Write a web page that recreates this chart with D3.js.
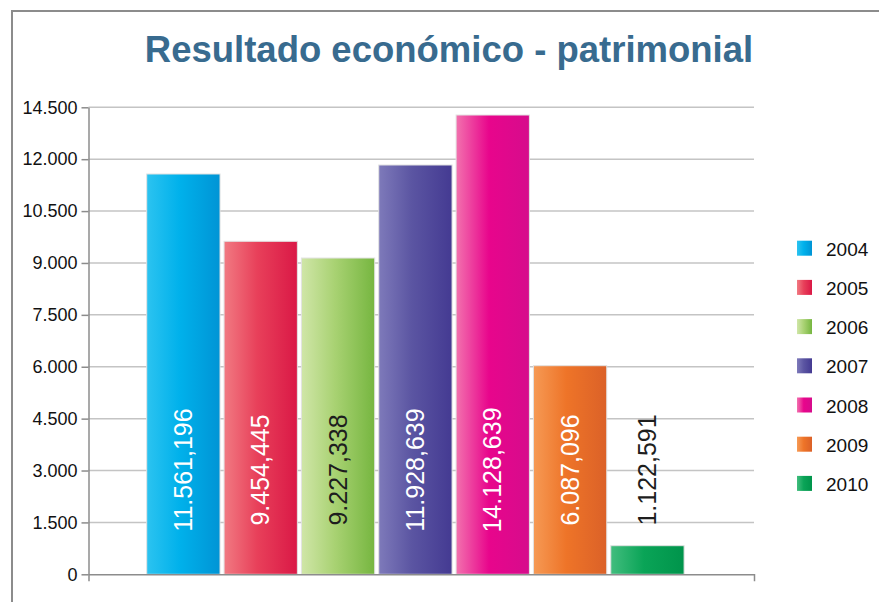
<!DOCTYPE html>
<html lang="es">
<head>
    <meta charset="UTF-8">
    <title>Resultado económico - patrimonial</title>
    <script src="https://d3js.org/d3.v7.min.js"></script>
    <style>
        body { margin: 0; background: #fff; }
        svg { display: block; font-family: "Liberation Sans", Arial, Helvetica, sans-serif; }
    </style>
</head>
<body>
    <div id="chart"></div>
    <script>
        // datos
        const years = ["2004", "2005", "2006", "2007", "2008", "2009", "2010"];
        const values = [11572, 9626, 9143, 11832, 13277, 6030, 827];
        const valueLabels = ["11.561,196", "9.454,445", "9.227,338", "11.928,639", "14.128,639", "6.087,096", "1.122,591"];
        const tickValues = [0, 1500, 3000, 4500, 6000, 7500, 9000, 10500, 12000, 13500];
        const tickLabels = ["0", "1.500", "3.000", "4.500", "6.000", "7.500", "9.000", "10.500", "12.000", "14.500"];
        const gradStops = [
            ["#2cc3f0", "#00b1eb", "#0094d5"],
            ["#f17a82", "#e8405a", "#da1846"],
            ["#d0e6a8", "#a9d273", "#76b640"],
            ["#7e7aba", "#5b55a2", "#443a92"],
            ["#f272ae", "#e8058c", "#d60c8c"],
            ["#f69a55", "#ee7428", "#db6128"],
            ["#42bd7e", "#0aa457", "#00944b"]
        ];
        const darkText = ["2006", "2010"];

        const W = 879, H = 602;
        const svg = d3.select("#chart").append("svg")
            .attr("width", W)
            .attr("height", H);

        const defs = svg.append("defs");
        years.forEach((yr, i) => {
            const g = defs.append("linearGradient")
                .attr("id", "g" + yr)
                .attr("x1", "0%").attr("x2", "100%")
                .attr("y1", "0%").attr("y2", "0%");
            g.append("stop").attr("offset", "0%").attr("stop-color", gradStops[i][0]);
            g.append("stop").attr("offset", "45%").attr("stop-color", gradStops[i][1]);
            g.append("stop").attr("offset", "100%").attr("stop-color", gradStops[i][2]);
        });

        // marco
        svg.append("rect")
            .attr("x", 12).attr("y", 11)
            .attr("width", W).attr("height", H)
            .attr("fill", "none")
            .attr("stroke", "#8c8c8c")
            .attr("stroke-width", 2);

        svg.append("text")
            .attr("x", 449)
            .attr("y", 62)
            .attr("text-anchor", "middle")
            .attr("font-size", 36.5)
            .attr("font-weight", "bold")
            .attr("fill", "#386b8f")
            .text("Resultado económico - patrimonial");

        const x0 = 88.5, x1 = 754;
        const y = d3.scaleLinear()
            .domain([0, 13500])
            .range([574.3, 107.3]);

        const x = d3.scaleBand()
            .domain(years)
            .range([144.7, 686.1])
            .paddingInner(0.052)
            .paddingOuter(0.026);

        // rejilla
        svg.append("g")
            .selectAll("line")
            .data(tickValues.filter(d => d > 0))
            .join("line")
            .attr("x1", x0).attr("x2", x1)
            .attr("y1", d => y(d)).attr("y2", d => y(d))
            .attr("stroke", "#c4c4c4")
            .attr("stroke-width", 1.5);

        // barras
        svg.append("g")
            .selectAll("rect")
            .data(years)
            .join("rect")
            .attr("x", d => x(d))
            .attr("y", (d, i) => y(values[i]))
            .attr("width", x.bandwidth())
            .attr("height", (d, i) => y(0) - y(values[i]))
            .attr("fill", d => `url(#g${d})`)
            .attr("stroke", "#e2e2e2")
            .attr("stroke-width", 1);

        svg.append("g")
            .selectAll("text")
            .data(years)
            .join("text")
            .attr("transform", d => `translate(${x(d) + x.bandwidth() / 2},470) rotate(-90)`)
            .attr("dy", "0.35em")
            .attr("text-anchor", "middle")
            .attr("font-size", 25)
            .attr("fill", d => darkText.includes(d) ? "#1e1e1e" : "#ffffff")
            .text((d, i) => valueLabels[i]);

        // ejes
        const yAxis = svg.append("g")
            .attr("transform", `translate(${x0},0)`)
            .call(d3.axisLeft(y)
                .tickValues(tickValues)
                .tickFormat((d, i) => tickLabels[i])
                .tickSize(7)
                .tickSizeOuter(0)
                .tickPadding(4));
        yAxis.select(".domain").attr("stroke", "#8c8c8c").attr("stroke-width", 1.5);
        yAxis.selectAll(".tick line").attr("stroke", "#8c8c8c").attr("stroke-width", 1.5);
        yAxis.selectAll(".tick text")
            .attr("font-size", 18)
            .attr("fill", "#111")
            .attr("font-family", "'Liberation Sans', Arial, sans-serif");

        const xLine = d3.scaleLinear().domain([0, 1]).range([x0, x1]);
        const xAxis = svg.append("g")
            .attr("transform", `translate(0,${y(0)})`)
            .call(d3.axisBottom(xLine).tickValues([]).tickSizeOuter(7));
        xAxis.select(".domain").attr("stroke", "#8c8c8c").attr("stroke-width", 1.5);

        // leyenda
        const leg = svg.append("g");
        const legItem = leg.selectAll("g")
            .data(years)
            .join("g")
            .attr("transform", (d, i) => `translate(797,${240.7 + i * 39.2})`);
        legItem.append("rect")
            .attr("width", 15).attr("height", 15)
            .attr("fill", d => `url(#g${d})`);
        legItem.append("text")
            .attr("x", 29)
            .attr("y", 15)
            .attr("font-size", 19)
            .attr("fill", "#111")
            .text(d => d);
    </script>
</body>
</html>
